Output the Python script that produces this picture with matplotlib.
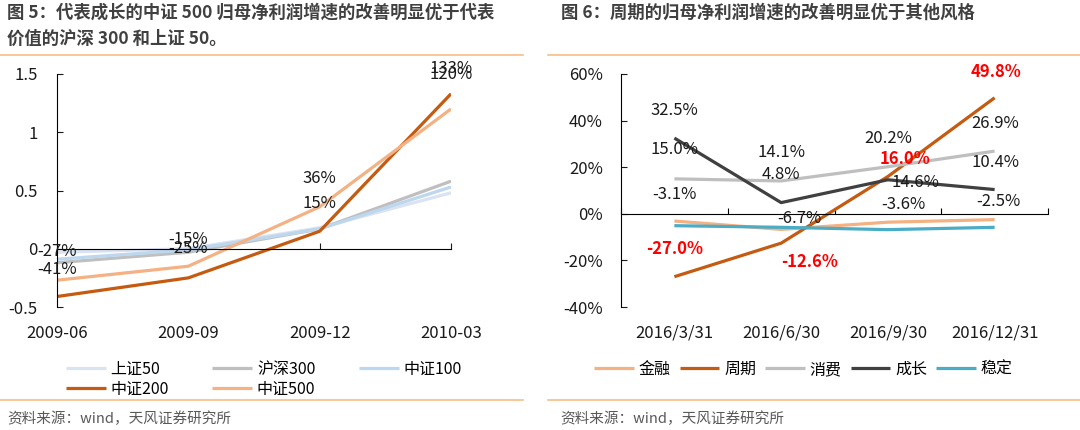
import numpy as np
import matplotlib.pyplot as plt
from matplotlib.ticker import FixedLocator, FuncFormatter
from matplotlib.lines import Line2D

plt.rcParams['font.family'] = ['Noto Sans CJK SC', 'DejaVu Sans']

# ---- data: figure 5 (left) ----
left_dates = ['2009-06', '2009-09', '2009-12', '2010-03']
sz50 = [-0.03, 0.00, 0.18, 0.48]
hs300 = [-0.12, -0.03, 0.17, 0.58]
zz100 = [-0.09, -0.01, 0.17, 0.53]
zz200 = [-0.41, -0.25, 0.15, 1.33]
zz500 = [-0.27, -0.15, 0.36, 1.20]
zz200_labels = ['-41%', '-25%', '15%', '133%']
zz500_labels = ['-27%', '-15%', '36%', '120%']

# ---- data: figure 6 (right), in % ----
right_dates = ['2016/3/31', '2016/6/30', '2016/9/30', '2016/12/31']
jinrong = [-3.1, -6.7, -3.6, -2.5]
zhouqi = [-27.0, -12.6, 16.0, 49.8]
xiaofei = [15.0, 14.1, 20.2, 26.9]
chengzhang = [32.5, 4.8, 14.6, 10.4]
wending = [-5.1, -5.8, -6.8, -5.8]

PX = 0.72  # points per pixel at dpi 100
ORANGE_RULE = '#f8b77c'
TXT = '#1a1a1a'


def add_labels(ax, xs, ys, texts, offsets, **kw):
  for x, y, t, (dx, dy) in zip(xs, ys, texts, offsets):
    ax.annotate(t, (x, y), xytext=(dx * PX, dy * PX), textcoords='offset points',
                ha='center', va='center', fontsize=12, **kw)


fig = plt.figure(figsize=(10.8, 4.3), dpi=100)

# ---------------- left chart ----------------
axl = fig.add_axes([57 / 1080, 1 - 307 / 430, (451 - 57) / 1080, 233 / 430])
xl = np.arange(len(left_dates))
left_series = [
  ('上证50', sz50, '#dae3f3'),
  ('沪深300', hs300, '#bfbfbf'),
  ('中证100', zz100, '#bdd7ee'),
  ('中证200', zz200, '#c55a11'),
  ('中证500', zz500, '#f4b183'),
]
left_handles = {}
for name, vals, col in left_series:
  ln, = axl.plot(xl, vals, color=col, lw=2.3, solid_capstyle='butt', label=name)
  left_handles[name] = ln

add_labels(axl, xl, zz200, zz200_labels, [(0, 27), (0, 29), (0, 28), (0, 25)], color=TXT)
add_labels(axl, xl, zz500, zz500_labels, [(0, 29), (0, 27), (0, 28), (0, 34)], color=TXT)

axl.set_xlim(0, 3)
axl.set_ylim(-0.5, 1.5)
axl.set_yticks([-0.5, 0, 0.5, 1, 1.5])
axl.yaxis.set_major_formatter(FuncFormatter(lambda v, p: '{:g}'.format(v)))
axl.set_xticks(xl)
axl.set_xticklabels(left_dates)
for s in ['top', 'right']:
  axl.spines[s].set_visible(False)
axl.spines['bottom'].set_position(('data', 0))
for s in ['left', 'bottom']:
  axl.spines[s].set_linewidth(0.8)
axl.tick_params(axis='y', direction='in', length=4, width=0.8, pad=14, labelsize=12, colors=TXT)
axl.tick_params(axis='x', direction='in', length=4, width=0.8, pad=55, labelsize=12, colors=TXT)

order_l = ['上证50', '中证200', '沪深300', '中证500', '中证100']
fig.legend([left_handles[n] for n in order_l], order_l, loc='upper left',
           bbox_to_anchor=(66 / 1080, 1 - 361 / 430), ncol=3, frameon=False,
           fontsize=11.5, handlelength=2.5, handletextpad=0.3, columnspacing=2.7,
           labelspacing=0.15, borderpad=0, borderaxespad=0)

# ---------------- right chart ----------------
axr = fig.add_axes([621 / 1080, 1 - 307 / 430, (1048 - 621) / 1080, 233 / 430])
xr = np.arange(len(right_dates))
right_series = [
  ('金融', jinrong, '#f4b183'),
  ('周期', zhouqi, '#c55a11'),
  ('消费', xiaofei, '#bfbfbf'),
  ('成长', chengzhang, '#404040'),
  ('稳定', wending, '#4bacc6'),
]
right_handles = []
for name, vals, col in right_series:
  ln, = axr.plot(xr, vals, color=col, lw=2.3, solid_capstyle='butt', label=name)
  right_handles.append(ln)

fmt = lambda vals: ['{:.1f}%'.format(v) for v in vals]
add_labels(axr, xr, zhouqi, fmt(zhouqi), [(0, 28), (28, -19), (17, 18), (1, 26)],
           color='#ff0000', fontweight='bold')
add_labels(axr, xr, chengzhang, fmt(chengzhang), [(0, 28), (0, 28), (28, -3), (1, 27)], color=TXT)
add_labels(axr, xr, xiaofei, fmt(xiaofei), [(0, 29), (0, 28), (0, 28), (1, 28)], color=TXT)
add_labels(axr, xr, jinrong, fmt(jinrong), [(0, 27), (18, 11), (16, 18), (4, 18)], color=TXT)

axr.set_xlim(-0.5, 3.5)
axr.set_ylim(-40, 60)
axr.set_yticks(np.arange(-40, 61, 20))
axr.yaxis.set_major_formatter(FuncFormatter(lambda v, p: '{:d}%'.format(int(round(v)))))
axr.set_xticks(xr)
axr.set_xticklabels(right_dates)
axr.xaxis.set_minor_locator(FixedLocator(np.arange(-0.5, 3.6, 1)))
for s in ['top', 'right']:
  axr.spines[s].set_visible(False)
axr.spines['bottom'].set_position(('data', 0))
for s in ['left', 'bottom']:
  axr.spines[s].set_linewidth(0.8)
axr.tick_params(axis='y', direction='in', length=4, width=0.8, pad=13, labelsize=12, colors=TXT)
axr.tick_params(axis='x', which='major', length=0, pad=80, labelsize=12, colors=TXT)
axr.tick_params(axis='x', which='minor', direction='in', length=4, width=0.8)

fig.legend(right_handles, [s[0] for s in right_series], loc='upper left',
           bbox_to_anchor=(594 / 1080, 1 - 361 / 430), ncol=5, frameon=False,
           fontsize=11.5, handlelength=2.5, handletextpad=0.3, columnspacing=0.55,
           borderpad=0, borderaxespad=0)

# ---------------- titles, rules, sources ----------------
fig.text(7 / 1080, 1 - 4 / 430,
         '图 5：代表成长的中证 500 归母净利润增速的改善明显优于代表\n价值的沪深 300 和上证 50。',
         ha='left', va='top', fontsize=12.5, fontweight='bold', color='#404040', linespacing=1.55)
fig.text(561 / 1080, 1 - 4 / 430, '图 6：周期的归母净利润增速的改善明显优于其他风格',
         ha='left', va='top', fontsize=12.5, fontweight='bold', color='#404040')

for x0, x1 in [(0, 523), (548, 1080)]:
  for yy in [55, 400]:
    fig.add_artist(Line2D([x0 / 1080, x1 / 1080], [1 - yy / 430, 1 - yy / 430],
                          color=ORANGE_RULE, lw=1.1))

for x0 in [7, 560]:
  fig.text(x0 / 1080, 1 - 419 / 430, '资料来源：wind，天风证券研究所',
           ha='left', va='center', fontsize=10.5, color='#595959')

fig.savefig('out.png', dpi=100)
